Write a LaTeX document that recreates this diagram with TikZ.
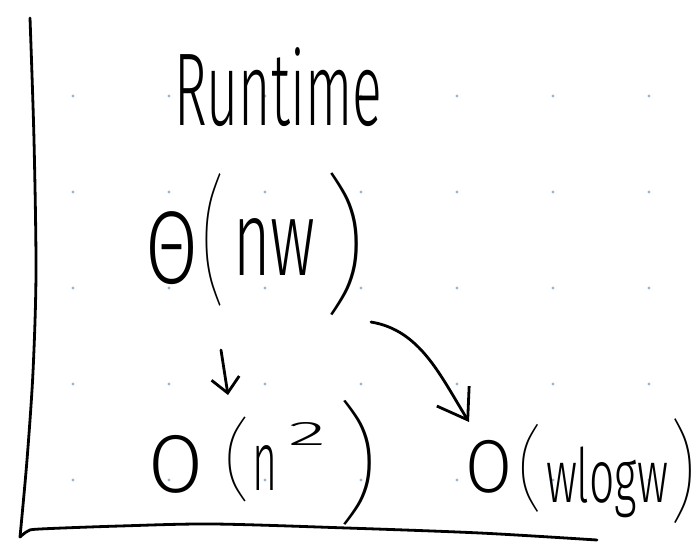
\documentclass[tikz,border=0pt]{standalone}
\usepackage{fontspec}
\usepackage{graphicx}
\usetikzlibrary{arrows.meta}
\newfontfamily\hand{Fira Sans Light}
\newfontfamily\thinhand{Fira Sans Thin}
\definecolor{inkcolor}{RGB}{0,0,0}
\definecolor{gridcolor}{RGB}{160,180,215}
\newcommand{\ink}[3]{\resizebox*{#1pt}{#2pt}{\hand #3}}
\newcommand{\thinink}[3]{\resizebox*{#1pt}{#2pt}{\thinhand #3}}

\begin{document}
\begin{tikzpicture}[x=1pt, y=-1pt,
    pen/.style={inkcolor, line width=2.8pt, line cap=round, line join=round},
    glyph/.style={inner sep=0pt, outer sep=0pt, anchor=north west, text=inkcolor},
    penarrow/.style={pen, -{Straight Barb[length=15pt, width=28pt]}},
    bigarrow/.style={pen, -{Straight Barb[length=28pt, width=38pt]}}]
    \useasboundingbox (0,0) rectangle (697,544);

    % Grid
    \foreach \x in {73,169,...,649}
        \foreach \y in {96,192,...,480}
            \fill[gridcolor] (\x,\y) circle (1.6pt);

    % Axes
    \draw[pen] plot[smooth] coordinates {(30,18) (34,140) (36,272) (33,372) (27,460) (20,537)};
    \draw[pen] plot[smooth] coordinates {(20,537) (28,531) (40,529) (120,526) (213,524) (347,528) (480,533) (597,540)};

    % Title
    \node[glyph] (runtime) at (174,48) {\ink{208}{79}{Runtime}};

    % Theta(nw)
    \node[glyph] (thetaSym) at (145,212) {\ink{53}{73}{Θ}};
    \node[glyph] (thetaOpen) at (200,173) {\thinink{26}{133}{(}};
    \node[glyph] (thetaArgs) at (233,218) {\ink{82}{57}{nw}};
    \node[glyph] (thetaClose) at (320,173) {\thinink{48}{143}{)}};

    % O(n^2)
    \node[glyph] (nsqO) at (148,435) {\ink{55}{58}{O}};
    \node[glyph] (nsqOpen) at (222,417) {\thinink{30}{85}{(}};
    \node[glyph] (nsqN) at (252,445) {\ink{25}{45}{n}};
    \node[glyph] (nsqTwo) at (288,422) {\ink{38}{23}{2}};
    \node[glyph] (nsqClose) at (333,400) {\thinink{48}{125}{)}};

    % O(w log w)
    \node[glyph] (wlogO) at (465,440) {\ink{47}{53}{O}};
    \node[glyph] (wlogOpen) at (516,424) {\thinink{28}{88}{(}};
    \node[glyph] (wlogArgs) at (546,447) {\ink{122}{71}{wlogw}};
    \node[glyph] (wlogClose) at (668,419) {\thinink{29}{105}{)}};

    % Arrows
    \draw[penarrow] ([shift={(8,44)}]thetaOpen.south) -- ([shift={(-9,-22)}]nsqOpen.north);
    \draw[bigarrow] ([shift={(3,6)}]thetaClose.south east)
        .. controls +(49,8) and +(-29,-47) .. ([shift={(4,-18)}]wlogO.north west);
\end{tikzpicture}
\end{document}
